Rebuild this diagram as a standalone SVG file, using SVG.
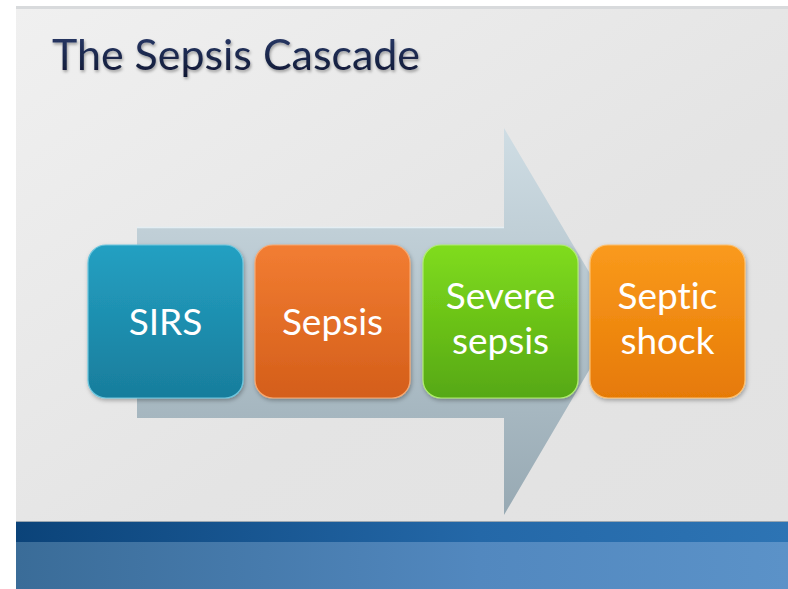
<svg xmlns="http://www.w3.org/2000/svg" width="788" height="589" viewBox="0 0 788 589">
<defs>
<linearGradient id="bg" x1="0" y1="0" x2="1" y2="1">
<stop offset="0" stop-color="#f0f0f0"/>
<stop offset="0.6" stop-color="#e4e4e4"/>
<stop offset="1" stop-color="#e2e2e2"/>
</linearGradient>
<linearGradient id="arrow" x1="0" y1="0" x2="0" y2="1">
<stop offset="0" stop-color="#cfdde4"/>
<stop offset="1" stop-color="#97a9b3"/>
</linearGradient>
<linearGradient id="band1" x1="0" y1="0" x2="1" y2="0">
<stop offset="0" stop-color="#0b4379"/>
<stop offset="0.6" stop-color="#2468a8"/>
<stop offset="1" stop-color="#2d74b4"/>
</linearGradient>
<linearGradient id="band2" x1="0" y1="0" x2="1" y2="0">
<stop offset="0" stop-color="#3a6c98"/>
<stop offset="0.6" stop-color="#5288bf"/>
<stop offset="1" stop-color="#5b92c8"/>
</linearGradient>
<linearGradient id="tg" x1="0" y1="0" x2="0" y2="1">
<stop offset="0" stop-color="#2c3d6e"/>
<stop offset="1" stop-color="#0e1630"/>
</linearGradient>
<linearGradient id="g1" x1="0" y1="0" x2="0" y2="1"><stop offset="0" stop-color="#24a0c2"/><stop offset="1" stop-color="#187d9c"/></linearGradient>
<linearGradient id="g2" x1="0" y1="0" x2="0" y2="1"><stop offset="0" stop-color="#f27d32"/><stop offset="1" stop-color="#d45e1a"/></linearGradient>
<linearGradient id="g3" x1="0" y1="0" x2="0" y2="1"><stop offset="0" stop-color="#80dc1e"/><stop offset="1" stop-color="#56a812"/></linearGradient>
<linearGradient id="g4" x1="0" y1="0" x2="0" y2="1"><stop offset="0" stop-color="#fa9a1c"/><stop offset="1" stop-color="#e67a06"/></linearGradient>
<filter id="sh" x="-10%" y="-10%" width="130%" height="130%">
<feDropShadow dx="1" dy="2" stdDeviation="2" flood-color="#000" flood-opacity="0.3"/>
</filter>
<filter id="tsh" x="-5%" y="-20%" width="110%" height="150%">
<feDropShadow dx="1" dy="2" stdDeviation="1.5" flood-color="#000" flood-opacity="0.35"/>
</filter>
</defs>
<style>
.box{stroke-width:1.2;filter:url(#sh)}
.lbl{font-family:Lato,"Open Sans","Liberation Sans",sans-serif;font-size:37px;fill:#ffffff;text-anchor:middle;font-variant-ligatures:none}
.title{font-family:Lato,"Open Sans","Liberation Sans",sans-serif;font-size:42px;fill:url(#tg);font-variant-ligatures:none}
</style>
<rect x="0" y="0" width="788" height="589" fill="#ffffff"/>
<rect x="16" y="6" width="772" height="515" fill="url(#bg)"/>
<rect x="16" y="6" width="772" height="3" fill="#d8dadc"/>
<rect x="16" y="521" width="772" height="21" fill="url(#band1)"/>
<rect x="16" y="542" width="772" height="47" fill="url(#band2)"/>
<line x1="16" y1="521.5" x2="788" y2="521.5" stroke="#9aa6b0" stroke-width="1"/>
<text class="title" x="52" y="70" textLength="368" lengthAdjust="spacingAndGlyphs" filter="url(#tsh)">The Sepsis Cascade</text>
<g id="connectors">
<path d="M137,227 L504,227 L504,128 L618,321 L504,515 L504,418 L137,418 Z" fill="url(#arrow)"/>
<line x1="137" y1="227.5" x2="504" y2="227.5" stroke="#e4eef3" stroke-width="1.5"/>
</g>
<g id="node-sirs">
<rect class="box" x="88" y="245" width="155" height="153" rx="18" fill="url(#g1)" stroke="#6cc6de"/>
<text class="lbl" x="165.5" y="335">SIRS</text>
</g>
<g id="node-sepsis">
<rect class="box" x="255" y="245" width="155" height="153" rx="18" fill="url(#g2)" stroke="#f8a870"/>
<text class="lbl" x="332.5" y="335">Sepsis</text>
</g>
<g id="node-severe">
<rect class="box" x="423" y="245" width="155" height="153" rx="18" fill="url(#g3)" stroke="#b0ec70"/>
<text class="lbl" x="500.5" y="309">Severe</text>
<text class="lbl" x="500.5" y="354">sepsis</text>
</g>
<g id="node-septic">
<rect class="box" x="590" y="245" width="155" height="153" rx="18" fill="url(#g4)" stroke="#fcc070"/>
<text class="lbl" x="667.5" y="309">Septic</text>
<text class="lbl" x="667.5" y="354">shock</text>
</g>
</svg>
